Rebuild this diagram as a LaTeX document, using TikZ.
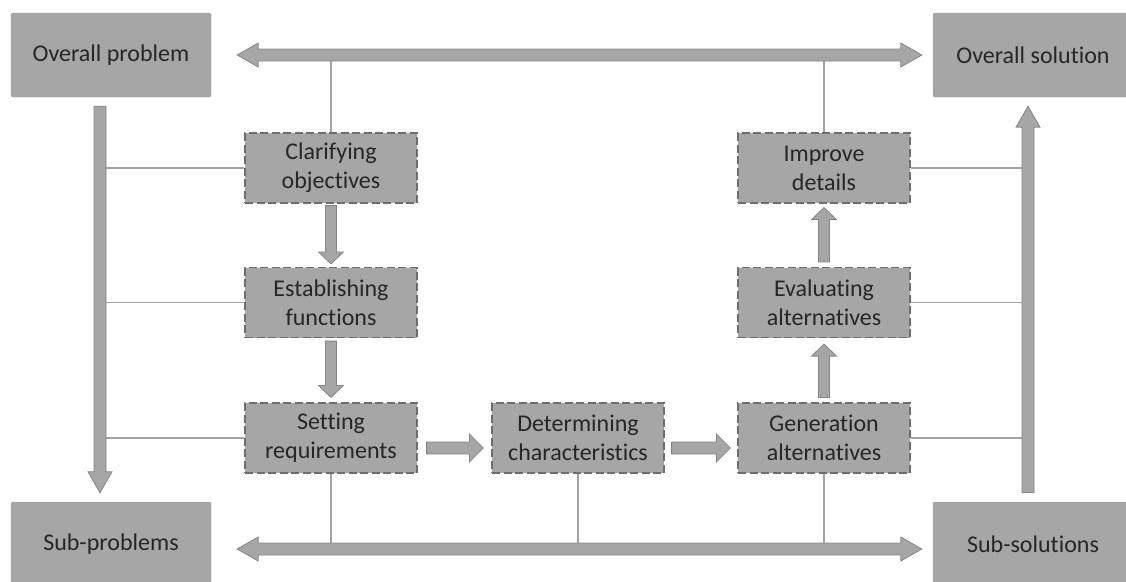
\documentclass[tikz,border=0pt]{standalone}
\usepackage{fontspec}
\setmainfont[Ligatures=NoCommon]{Carlito}
\usetikzlibrary{calc}
\definecolor{boxgray}{HTML}{A6A6A6}
\definecolor{dashgray}{HTML}{6E6E6E}
\definecolor{flowedge}{HTML}{858585}
\definecolor{linkgray}{HTML}{A2A2A2}
\definecolor{txtgray}{HTML}{262626}

\tikzset{
  bigbox/.style={fill=boxgray,draw=boxgray!92!black,rounded corners=2pt,minimum width=200pt,minimum height=84pt,text=txtgray},
  stepbox/.style={fill=boxgray,draw=dashgray,dash pattern=on 8pt off 3.5pt,line width=1.2pt,minimum width=172pt,minimum height=70pt,inner sep=0pt,align=center,text=txtgray},
  link/.style={draw=linkgray,line width=1.2pt},
  tail gap/.store in=\flowtailgap, tip gap/.store in=\flowtipgap,
  shaft w/.store in=\flowshaft, head w/.store in=\flowhead, head l/.store in=\flowheadlen,
  tail gap=0pt, tip gap=0pt, shaft w=5.5pt, head w=12.5pt, head l=12pt,
  bigflow/.style={shaft w=6pt,head w=12pt,head l=21pt},
  wideflow/.style={shaft w=6pt,head w=14pt,head l=14pt},
  flow/.style={fill=boxgray,draw=flowedge,line width=0.8pt,
    to path={let \p1=($(\tikztostart)!\flowtailgap!(\tikztotarget)$), \p2=($(\tikztotarget)!\flowtipgap!(\tikztostart)$),
      \p3=($(\p2)!\flowheadlen!(\p1)$) in
      ($(\p1)!\flowshaft!90:(\p2)$) -- ($(\p3)!\flowshaft!-90:(\p1)$) -- ($(\p3)!\flowhead!-90:(\p1)$) -- (\p2)
      -- ($(\p3)!\flowhead!90:(\p1)$) -- ($(\p3)!\flowshaft!90:(\p1)$) -- ($(\p1)!\flowshaft!-90:(\p2)$) -- cycle}},
  flowboth/.style={fill=boxgray,draw=flowedge,line width=0.8pt,
    to path={let \p1=($(\tikztostart)!\flowtailgap!(\tikztotarget)$), \p2=($(\tikztotarget)!\flowtipgap!(\tikztostart)$),
      \p3=($(\p2)!\flowheadlen!(\p1)$), \p4=($(\p1)!\flowheadlen!(\p2)$) in
      ($(\p4)!\flowshaft!90:(\p2)$) -- ($(\p3)!\flowshaft!-90:(\p1)$) -- ($(\p3)!\flowhead!-90:(\p1)$) -- (\p2)
      -- ($(\p3)!\flowhead!90:(\p1)$) -- ($(\p3)!\flowshaft!90:(\p1)$) -- ($(\p4)!\flowshaft!-90:(\p2)$)
      -- ($(\p4)!\flowhead!-90:(\p2)$) -- (\p1) -- ($(\p4)!\flowhead!90:(\p2)$) -- cycle}}
}

\begin{document}
\begin{tikzpicture}[x=1pt,y=-1pt,every node/.style={font=\fontsize{24}{29}\selectfont}]
\useasboundingbox (0,0) rectangle (1126,581);
% corner boxes
\node[bigbox] (op) at (111,55) {Overall problem};
\node[bigbox] (os) at (1033,55) {Overall solution};
\node[bigbox] (sp) at (111,544) {Sub-problems};
\node[bigbox] (ss) at (1033,544) {Sub-solutions};
% design steps
\node[stepbox] (clar) at (331,168) {Clarifying\\objectives};
\node[stepbox] (estab) at (331,302.5) {Establishing\\functions};
\node[stepbox] (setreq) at (331,438) {Setting\\requirements};
\node[stepbox] (det) at (578,438) {Determining\\characteristics};
\node[stepbox] (gen) at (824,438) {Generation\\alternatives};
\node[stepbox] (evalalt) at (824,302.5) {Evaluating\\alternatives};
\node[stepbox] (impr) at (824,168) {Improve\\details};
% free ends of the big arrows
\coordinate (lt) at ($(op.south)+(-11,9)$); \coordinate (lb) at ($(sp.north)+(-11,-9)$);
\coordinate (rt) at ($(os.south)+(-5,9)$); \coordinate (rb) at ($(ss.north)+(-5,-9)$);
\coordinate (bl) at ($(sp.east)+(26,5)$); \coordinate (br) at ($(ss.west)+(-11,5)$);
\coordinate (h1) at ($(setreq.east)+(9,10)$); \coordinate (h2) at ($(det.west)+(-8,10)$);
\coordinate (h3) at ($(det.east)+(7,10)$); \coordinate (h4) at ($(gen.west)+(-7,10)$);
% thin links
\draw[link] (clar.west) -- (clar.west -| lt); \draw[link] (estab.west) -- (estab.west -| lt); \draw[link] (setreq.west) -- (setreq.west -| lt);
\draw[link] (impr.east) -- (impr.east -| rt); \draw[link] (evalalt.east) -- (evalalt.east -| rt); \draw[link] (gen.east) -- (gen.east -| rt);
\draw[link] (clar.north) -- (clar.north |- op.east); \draw[link] (impr.north) -- (impr.north |- os.west);
\draw[link] (setreq.south) -- (setreq.south |- bl); \draw[link] (det.south) -- (det.south |- bl); \draw[link] (gen.south) -- (gen.south |- bl);
% block arrows
\draw[flowboth,bigflow,tail gap=26pt,tip gap=11pt] (op.east) to (os.west);
\draw[flowboth,bigflow] (bl) to (br);
\draw[flow,bigflow] (lt) to (lb);
\draw[flow,bigflow] (rb) to (rt);
\draw[flow,tail gap=2pt,tip gap=3pt] (clar.south) to (estab.north);
\draw[flow,tail gap=3pt,tip gap=5pt] (estab.south) to (setreq.north);
\draw[flow,wideflow] (h1) to (h2);
\draw[flow,wideflow] (h3) to (h4);
\draw[flow,tail gap=5pt,tip gap=6pt] (gen.north) to (evalalt.south);
\draw[flow,tail gap=5pt,tip gap=4pt] (evalalt.north) to (impr.south);
\end{tikzpicture}
\end{document}
